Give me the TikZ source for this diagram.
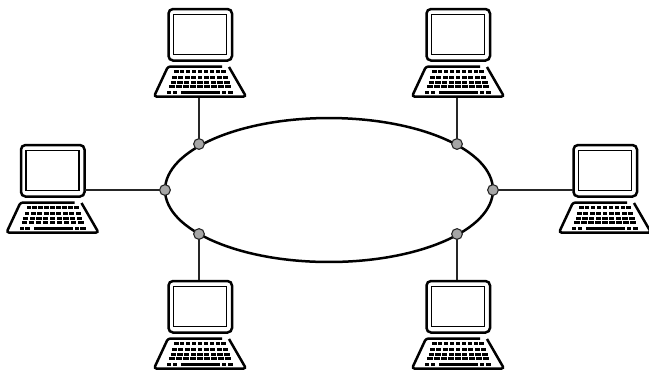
\documentclass[tikz,border=0pt]{standalone}
\usepackage{tikz}
\usetikzlibrary{positioning, shapes.geometric}

\tikzset{
  port/.style={draw, circle, fill=black!35, line width=0.022cm, minimum size=0.215cm, inner sep=0pt},
  wire/.style={draw, black!85, line width=0.03cm},
  ring/.style={draw, ellipse, line width=0.05cm},
  laptop/.pic={
    % lid and screen
    \draw[line width=0.05cm, rounded corners=0.09cm] (32,52.5) -- (-31.5,52.5) -- (-31.5,1) -- (32,1) -- cycle;
    \draw[line width=0.03cm] (-26.5,6.5) rectangle (26.5,46.5);
    % base
    \draw[line width=0.05cm, rounded corners=0.05cm] (22,58.5) -- (-32,58.5) -- (-46,88.5) -- (46,88.5) -- (29,59);
    % keys
    \foreach \ky/\kh in {63.7/26, 69.3/28, 74.3/29.5, 78.7/31} {
      \foreach \kn in {0,...,8} {
        \fill ({-\kh+\kn*(2*\kh+1.4)/9}, \ky-1.8) rectangle ++({(2*\kh+1.4)/9-1.4}, 3.4);
      }
    }
    \fill (-33,82.7) rectangle (-29,86);
    \fill (-27.5,82.7) rectangle (-23,86);
    \fill (-19,82.7) rectangle (20,86);
    \fill (22,82.7) rectangle (26,86);
    \fill (27.5,82.7) rectangle (33,86);
    % connection points
    \coordinate (-top) at (-1,0);
    \coordinate (-base) at (-1,90);
    \coordinate (-west) at (-32,46);
    \coordinate (-east) at (32,46);
  }
}

\begin{document}
\begin{tikzpicture}[x=0.02cm, y=-0.02cm]
  \useasboundingbox (0,0) rectangle (649,370);
  % laptops
  \pic (lapNW) at (200,8) {laptop};
  \pic (lapNE) at (458,8) {laptop};
  \pic (lapW) at (52.5,144) {laptop};
  \pic (lapE) at (605,144) {laptop};
  \pic (lapSW) at (200,280) {laptop};
  \pic (lapSE) at (458,280) {laptop};
  % ring
  \node[ring, minimum width=6.56cm, minimum height=2.88cm, inner sep=0pt] (bus) at (329,190) {};
  % wires
  \path[wire] (lapNW-base) -- (199,144) node[port] (pNW) {};
  \path[wire] (lapNE-base) -- (457,144) node[port] (pNE) {};
  \path[wire] (lapW-east) -- (165,190) node[port] (pW) {};
  \path[wire] (lapE-west) -- (493,190) node[port] (pE) {};
  \path[wire] (lapSW-top) -- (199,234) node[port] (pSW) {};
  \path[wire] (lapSE-top) -- (457,234) node[port] (pSE) {};
\end{tikzpicture}
\end{document}
